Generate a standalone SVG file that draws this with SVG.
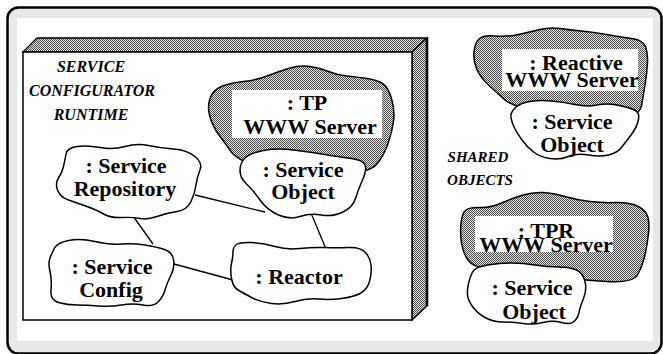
<svg xmlns="http://www.w3.org/2000/svg" width="663" height="354" viewBox="0 0 663 354">
<defs>
<pattern id="dither" width="2" height="2" patternUnits="userSpaceOnUse">
<rect width="2" height="2" fill="#e4e4e4"/>
<rect width="1" height="1" fill="#4a4a4a"/>
<rect x="1" y="1" width="1" height="1" fill="#4a4a4a"/>
</pattern>
<style>
.cloud{fill:#fff;stroke:#000;stroke-width:1.5}
.srv{fill:url(#dither);stroke:#000;stroke-width:1.5}
.lbl{fill:#fff;stroke:none}
.t{font-family:"Liberation Serif","Times New Roman",serif;font-weight:bold;font-size:22px;fill:#000;text-anchor:middle}
.it{font-family:"Liberation Serif","Times New Roman",serif;font-weight:bold;font-style:italic;fill:#000;text-anchor:middle}
.conn line{stroke:#000;stroke-width:1.3}
</style>
</defs>
<g id="frame">
<rect x="7.5" y="7.5" width="654" height="346" rx="11" fill="#e8e8e8" stroke="#000" stroke-width="2.5"/>
<rect x="17" y="18" width="636" height="323" fill="#fff"/>
</g>
<g id="runtime-box">
<polygon points="23,52 37,38 427,38 412,52" fill="url(#dither)" stroke="#000" stroke-width="1.3"/>
<polygon points="412,52 427,38 427,306 412,320" fill="url(#dither)" stroke="#000" stroke-width="1.3"/>
<line x1="427" y1="38" x2="427" y2="306" stroke="#000" stroke-width="2.5"/>
<rect x="23" y="52" width="389" height="268" fill="#fff" stroke="#000" stroke-width="1.5"/>
<text class="it" font-size="16" x="91" y="72">SERVICE</text>
<text class="it" font-size="16" x="92" y="96">CONFIGURATOR</text>
<text class="it" font-size="16" x="91" y="120">RUNTIME</text>
</g>
<g class="conn" id="connectors">
<line x1="195" y1="195" x2="265" y2="212"/>
<line x1="133" y1="216" x2="153" y2="244"/>
<line x1="174" y1="264" x2="233" y2="280"/>
<line x1="311" y1="213" x2="326" y2="249"/>
</g>
<g id="tp-server">
<path class="srv" d="M210,98.5 Q213,90 221.5,86.5 Q230,83 243.5,81.5 Q257,80 267,76 Q277,72 288.5,68.5 Q300,65 310,66.5 Q320,68 328.5,71.5 Q337,75 347,76 Q357,77 367,78.5 Q377,80 382.5,83.5 Q388,87 391.5,98.5 Q395,110 393.5,121.5 Q392,133 387.5,145 Q383,157 376.5,164.5 Q370,172 335,178.5 Q300,185 268.5,172.5 Q237,160 231,151.5 Q225,143 219,135 Q213,127 210,117 Q207,107 210,98.5 Z"/>
<rect class="lbl" x="232" y="90" width="150" height="48"/>
<text class="t" x="307" y="110">: TP</text>
<text class="t" x="310" y="134">WWW Server</text>
</g>
<g id="tp-service-object">
<path class="cloud" d="M240,170.5 Q240,163 245,158 Q250,153 263.5,150.5 Q277,148 293.5,150 Q310,152 325,154.5 Q340,157 351.5,158.5 Q363,160 365,165 Q367,170 362.5,180 Q358,190 355.5,198.5 Q353,207 343,212 Q333,217 321.5,215 Q310,213 300,216.5 Q290,220 278.5,215 Q267,210 260,200 Q253,190 246.5,184 Q240,178 240,170.5 Z"/>
<text class="t" x="303" y="177">: Service</text>
<text class="t" x="303" y="199">Object</text>
</g>
<g id="service-repository">
<path class="cloud" d="M66,154 Q67,148 77,146.5 Q87,145 100,147.5 Q113,150 125,146.5 Q137,143 148.5,145.5 Q160,148 173.5,149 Q187,150 195,156.5 Q203,163 200,170 Q197,177 196,185 Q195,193 191,201.5 Q187,210 177,211.5 Q167,213 157,216.5 Q147,220 140,218.5 Q133,217 121.5,217.5 Q110,218 103.5,214 Q97,210 87,206.5 Q77,203 68.5,200 Q60,197 57.5,190 Q55,183 58.5,178 Q62,173 63.5,166.5 Q65,160 66,154 Z"/>
<text class="t" x="126" y="173">: Service</text>
<text class="t" x="125" y="196">Repository</text>
</g>
<g id="service-config">
<path class="cloud" d="M54.5,248 Q57,243 68.5,240.5 Q80,238 95,241.5 Q110,245 121.5,244 Q133,243 145,245 Q157,247 164.5,249.5 Q172,252 173.5,259.5 Q175,267 171,275 Q167,283 165,290 Q163,297 158,302 Q153,307 143,305 Q133,303 121.5,305 Q110,307 98.5,306 Q87,305 77,305 Q67,305 58.5,302.5 Q50,300 51,290 Q52,280 50,271.5 Q48,263 50,258 Q52,253 54.5,248 Z"/>
<text class="t" x="112" y="274">: Service</text>
<text class="t" x="111" y="297">Config</text>
</g>
<g id="reactor">
<path class="cloud" d="M233,252 Q233,247 236.5,244.5 Q240,242 251.5,242.5 Q263,243 275,246.5 Q287,250 300,248.5 Q313,247 325,247.5 Q337,248 348.5,247.5 Q360,247 365,252 Q370,257 371,265 Q372,273 369.5,281.5 Q367,290 360,293.5 Q353,297 341.5,298.5 Q330,300 318.5,299 Q307,298 295,301.5 Q283,305 271.5,303.5 Q260,302 251.5,297.5 Q243,293 238,290 Q233,287 231.5,278.5 Q230,270 231.5,263.5 Q233,257 233,252 Z"/>
<text class="t" x="299" y="284">: Reactor</text>
</g>
<g id="reactive-server">
<path class="srv" d="M474,51.5 Q475,43 479,39 Q483,35 495,36 Q507,37 518.5,34.5 Q530,32 540,29.5 Q550,27 560,28.5 Q570,30 581.5,31 Q593,32 606.5,34.5 Q620,37 631.5,38.5 Q643,40 645.5,46.5 Q648,53 647.5,63 Q647,73 645,85 Q643,97 641.5,106 Q640,115 620,120 Q600,125 556.5,116 Q513,107 505,100 Q497,93 488.5,85 Q480,77 476.5,68.5 Q473,60 474,51.5 Z"/>
<rect class="lbl" x="502" y="49" width="136" height="42"/>
<text class="t" x="576" y="70">: Reactive</text>
<text class="t" x="572" y="87">WWW Server</text>
</g>
<g id="reactive-service-object">
<path class="cloud" d="M511,118 Q510,113 515,108 Q520,103 530,101.5 Q540,100 551.5,101 Q563,102 575,104.5 Q587,107 597,105 Q607,103 617,105 Q627,107 633.5,109.5 Q640,112 638.5,119.5 Q637,127 631,135 Q625,143 621,148 Q617,153 608.5,155 Q600,157 588.5,155 Q577,153 568.5,156.5 Q560,160 550,158.5 Q540,157 533.5,152 Q527,147 522,140 Q517,133 514.5,128 Q512,123 511,118 Z"/>
<text class="t" x="572" y="129">: Service</text>
<text class="t" x="572" y="152">Object</text>
</g>
<g id="shared-objects-label">
<text class="it" font-size="15" x="478" y="162">SHARED</text>
<text class="it" font-size="15" x="480" y="185">OBJECTS</text>
</g>
<g id="tpr-server">
<path class="srv" d="M461,223 Q462,213 466,210 Q470,207 480,207.5 Q490,208 501.5,203 Q513,198 523,195 Q533,192 543,192.5 Q553,193 565,196.5 Q577,200 590,201.5 Q603,203 615,202.5 Q627,202 635,205 Q643,208 646.5,214 Q650,220 648.5,233.5 Q647,247 644.5,257 Q642,267 637.5,275 Q633,283 606.5,281.5 Q580,280 540,275 Q500,270 486.5,268.5 Q473,267 468,260 Q463,253 461.5,243 Q460,233 461,223 Z"/>
<rect class="lbl" x="475" y="216" width="138" height="36"/>
<text class="t" x="546" y="238">: TPR</text>
<text class="t" x="546" y="252">WWW Server</text>
</g>
<g id="tpr-service-object">
<path class="cloud" d="M468.5,283.5 Q470,277 472.5,272 Q475,267 487.5,265 Q500,263 511.5,263 Q523,263 535,265 Q547,267 558.5,267 Q570,267 576.5,270 Q583,273 585,281.5 Q587,290 583.5,298.5 Q580,307 579,312.5 Q578,318 574,321.5 Q570,325 561.5,322.5 Q553,320 543,322.5 Q533,325 523,323.5 Q513,322 503,322 Q493,322 485,317.5 Q477,313 472.5,306.5 Q468,300 467.5,295 Q467,290 468.5,283.5 Z"/>
<text class="t" x="532" y="295">: Service</text>
<text class="t" x="534" y="319">Object</text>
</g>
</svg>
